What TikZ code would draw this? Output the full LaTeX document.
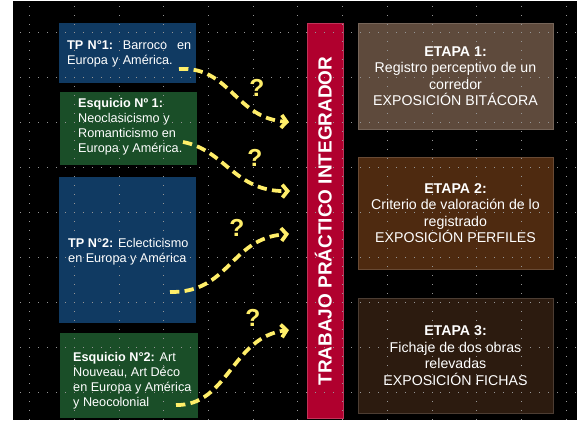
\documentclass[tikz,border=0pt]{standalone}
\usepackage{fontspec}
\setmainfont{Liberation Sans}
\usepackage{tikz}
\usetikzlibrary{positioning}
\usetikzlibrary{arrows.meta}
\usetikzlibrary{calc}
\definecolor{tpblue}{RGB}{16,58,98}
\definecolor{esqgreen}{RGB}{26,78,40}
\definecolor{barred}{RGB}{176,0,46}
\definecolor{etapaA}{RGB}{94,74,60}
\definecolor{etapaB}{RGB}{78,42,16}
\definecolor{etapaC}{RGB}{44,27,15}
\definecolor{arrowyel}{RGB}{255,238,105}
\definecolor{griddot}{RGB}{150,150,150}
\newcommand{\leftfont}{\fontsize{10.8}{12.6}\selectfont}
\newcommand{\stagefont}{\fontsize{12.1}{14.1}\selectfont}
\tikzset{
  boxtext/.style={text=white, inner sep=0pt, anchor=north west, align=left, font=\leftfont},
  stagetext/.style={text=white, inner sep=0pt, align=center, font=\stagefont},
  question/.style={text=arrowyel, inner sep=0pt, font=\fontsize{21}{21}\selectfont\bfseries},
  flow/.style={draw=arrowyel, line width=3.2pt, dash pattern=on 8pt off 4.5pt,
               -{Straight Barb[length=4.5pt,width=11pt]}},
}

\begin{document}
\begin{tikzpicture}[x=0.03cm,y=-0.03cm]
            \fill[white] (0,0) rectangle (577,425);
            \useasboundingbox (0,0) rectangle (577,425);
            \fill[black] (13,1) rectangle (577,420);
            % left boxes
            \coordinate (tpA1) at (59,23);   \coordinate (tpA3) at (196,83);
            \coordinate (esA1) at (60,92);   \coordinate (esA3) at (197,165);
            \coordinate (tpB1) at (59,177);  \coordinate (tpB3) at (196,323);
            \coordinate (esB1) at (60,333);  \coordinate (esB3) at (198,418);
            \fill[tpblue]   (tpA1) rectangle (tpA3);
            \fill[esqgreen] (esA1) rectangle (esA3);
            \fill[tpblue]   (tpB1) rectangle (tpB3);
            \fill[esqgreen] (esB1) rectangle (esB3);
            % red bar
            \coordinate (bar1) at (307,23);  \coordinate (bar3) at (343,418);
            \draw[fill=barred,draw=barred!80!white,line width=0.8pt] (bar1) rectangle (bar3);
            % etapa boxes
            \coordinate (etA1) at (358,23);  \coordinate (etA3) at (553,129);
            \coordinate (etB1) at (358,157); \coordinate (etB3) at (553,269);
            \coordinate (etC1) at (358,298); \coordinate (etC3) at (553,413);
            \draw[fill=etapaA,draw=etapaA!85!white,line width=0.6pt] (etA1) rectangle (etA3);
            \draw[fill=etapaB,draw=etapaB!85!white,line width=0.6pt] (etB1) rectangle (etB3);
            \draw[fill=etapaC,draw=etapaC!85!white,line width=0.6pt] (etC1) rectangle (etC3);
            % dotted grid
            \foreach \r in {0,...,8} {
              \foreach \c in {-1,...,61} {
                \fill[griddot] ({29.7+8.94*\c-0.5},{33+44.9*\r-0.5}) rectangle ++(1,1);
              }
            }
            \foreach \c in {0,...,12} {
              \foreach \r in {-3,...,43} {
                \fill[griddot] ({29.7+44.7*\c-0.5},{33+8.98*\r-0.5}) rectangle ++(1,1);
              }
            }
            % left texts
            \node[boxtext, text width=3.72cm] (tpAtxt) at (67,40.5)
                {\textbf{TP N°1:}\hfill Barroco\hfill en\\Europa y América.};
            \node[boxtext] (esAtxt) at (78,98.5)
                {\textbf{Esquicio Nº 1:}\\Neoclasicismo y\\Romanticismo en\\Europa y América.};
            \node[boxtext] (tpBtxt) at (68,238.5)
                {\textbf{TP N°2:} Eclecticismo\\en Europa y América};
            \node[boxtext] (esBtxt) at (73,352.5)
                {\textbf{Esquicio N°2:} Art\\Nouveau, Art Déco\\en Europa y América\\y Neocolonial};
            % bar title
            \node[rotate=90, anchor=base, inner sep=0pt, text=white,
                  font=\fontsize{16.2}{16}\selectfont\bfseries] (bartxt) at (331.5,221)
                {TRABAJO PRÁCTICO INTEGRADOR};
            % etapa texts
            \node[stagetext] (etAtxt) at ($(etA1)!0.5!(etA3)$)
                {\textbf{ETAPA 1:}\\Registro perceptivo de un\\corredor\\EXPOSICIÓN BITÁCORA};
            \node[stagetext] (etBtxt) at ($(etB1)!0.5!(etB3)$)
                {\textbf{ETAPA 2:}\\Criterio de valoración de lo\\registrado\\EXPOSICIÓN PERFILES};
            \node[stagetext] (etCtxt) at ($(etC1)!0.5!(etC3)$)
                {\textbf{ETAPA 3:}\\Fichaje de dos obras\\relevadas\\EXPOSICIÓN FICHAS};
            % arrows to the bar
            \coordinate (aAs) at (179,69);  \coordinate (aAe) at (289,122);
            \coordinate (aBs) at (183,142); \coordinate (aBe) at (290,191);
            \coordinate (aCs) at (170,292); \coordinate (aCe) at (289,234);
            \coordinate (aDs) at (176,405); \coordinate (aDe) at (289,330);
            \draw[flow] (aAs) .. controls (230,66) and (235,118) .. (aAe);
            \draw[flow] (aBs) .. controls (225,150) and (235,192) .. (aBe);
            \draw[flow] (aCs) .. controls (230,293) and (230,238) .. (aCe);
            \draw[flow] (aDs) .. controls (228,406) and (232,337) .. (aDe);
            \node[question] (qA) at (257,88)  {?};
            \node[question] (qB) at (255,158) {?};
            \node[question] (qC) at (237,228) {?};
            \node[question] (qD) at (253,318) {?};
\end{tikzpicture}
\end{document}
